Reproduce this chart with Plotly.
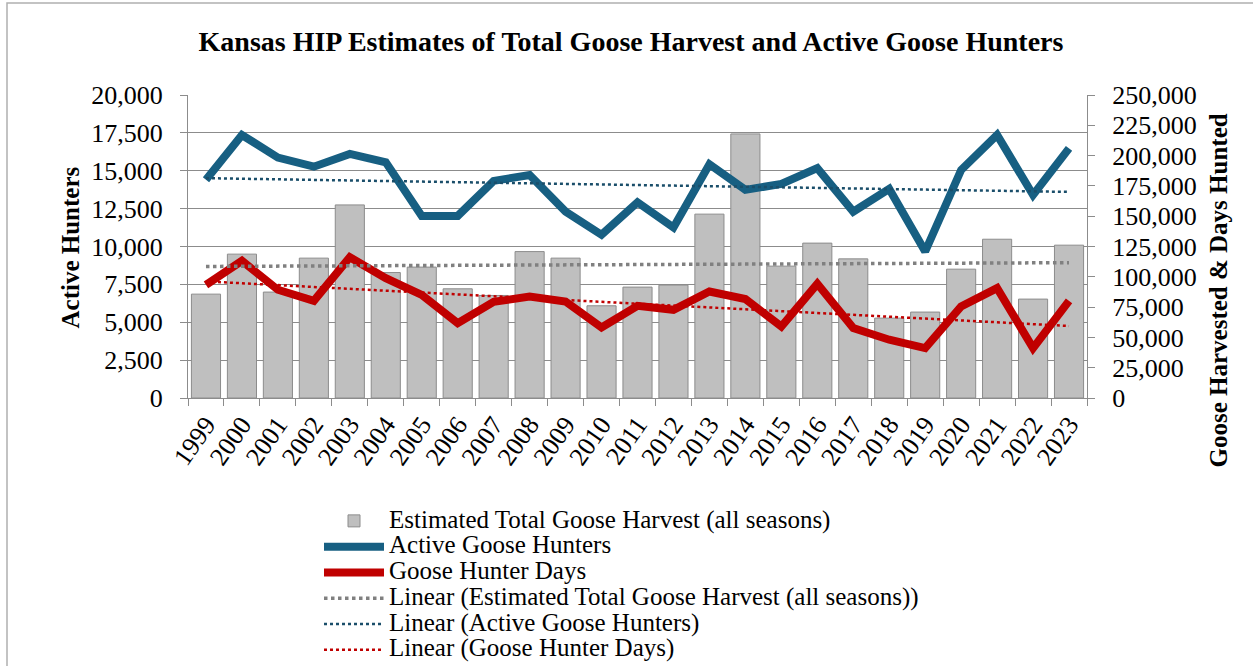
import numpy as np
import plotly.graph_objects as go

years = [str(y) for y in range(1999, 2024)]
harvest = [85700, 118700, 87400, 115400, 159300, 103500, 108000, 90100, 84600, 120800,
           115400, 76100, 91500, 93100, 151700, 217900, 108800, 127800, 114800, 65900,
           70900, 106300, 131000, 81600, 126100]
hunters = [14400, 17360, 15870, 15270, 16110, 15560, 12020, 12020, 14330, 14720,
           12300, 10770, 12920, 11250, 15430, 13740, 14130, 15170, 12300, 13800,
           9670, 15050, 17360, 13400, 16480]
hunter_days = [93400, 113200, 89300, 80200, 116200, 98900, 85100, 61800, 79300, 83700,
               79600, 58200, 76100, 72800, 87900, 81600, 59000, 94200, 57700, 48100,
               41200, 75500, 90700, 41200, 80200]
series_names = ["Estimated Total Goose Harvest (all seasons)",
                "Active Goose Hunters",
                "Goose Hunter Days",
                "Linear (Estimated Total Goose Harvest (all seasons))",
                "Linear (Active Goose Hunters)",
                "Linear (Goose Hunter Days)"]

idx = np.arange(len(years))
def trend(v):
    a, b = np.polyfit(idx, np.array(v, dtype=float), 1)
    return list(a * idx + b)

def lg(s):
    return '<span style="font-size:25px">' + s + '</span>'

FONT = "Liberation Serif"
GRID = "#8c8c8c"
BLUE = "#175f82"
RED = "#c00000"

fig = go.Figure()
fig.add_trace(go.Bar(x=years, y=harvest, name=lg(series_names[0]),
                     marker=dict(color="#bfbfbf", line=dict(color="#8c8c8c", width=1)),
                     yaxis="y"))
fig.add_trace(go.Scatter(x=years, y=hunters, name=lg(series_names[1]), mode="lines",
                         line=dict(color=BLUE, width=8), yaxis="y2"))
fig.add_trace(go.Scatter(x=years, y=hunter_days, name=lg(series_names[2]), mode="lines",
                         line=dict(color=RED, width=8), yaxis="y"))
fig.add_trace(go.Scatter(x=years, y=trend(harvest), name=lg(series_names[3]), mode="lines",
                         line=dict(color="#808080", width=3.5, dash="dot"), yaxis="y"))
fig.add_trace(go.Scatter(x=years, y=trend(hunters), name=lg(series_names[4]),
                         mode="lines", line=dict(color="#1a4e6a", width=2.5, dash="dot"), yaxis="y2"))
fig.add_trace(go.Scatter(x=years, y=trend(hunter_days), name=lg(series_names[5]),
                         mode="lines", line=dict(color=RED, width=2.5, dash="dot"), yaxis="y"))

L, R, T, B = 188, 1087, 95, 398
W, H = 1253, 666
px = lambda x: (x - L) / (R - L)
py = lambda y: (B - y) / (B - T)

fig.update_layout(
    width=W, height=H,
    margin=dict(l=L, r=W - R, t=T, b=H - B, pad=0, autoexpand=False),
    paper_bgcolor="white", plot_bgcolor="white",
    font=dict(family=FONT, size=26, color="black"),
    bargap=0.19,
    showlegend=True,
    title=dict(text="<b>Kansas HIP Estimates of Total Goose Harvest and Active Goose Hunters</b>",
               xref="paper", x=px(631), xanchor="center",
               yref="container", y=1 - 41 / H, yanchor="middle",
               font=dict(family=FONT, size=28, color="black")),
    xaxis=dict(type="category", tickson="boundaries", ticks="outside", ticklen=7,
               tickcolor=GRID, showline=True, linecolor=GRID, linewidth=1,
               tickangle=-55, showgrid=False, automargin=False,
               tickfont=dict(family=FONT, size=26)),
    yaxis=dict(side="right", range=[0, 250000], dtick=25000, tickformat=",d",
               showgrid=False, zeroline=False, showline=True, linecolor=GRID,
               ticks="outside", ticklen=7, tickcolor=GRID, ticklabelstandoff=12,
               automargin=False, tickfont=dict(family=FONT, size=26)),
    yaxis2=dict(side="left", overlaying="y", range=[0, 20000], dtick=2500, tickformat=",d",
                showgrid=True, gridcolor=GRID, gridwidth=1, zeroline=False,
                showline=True, linecolor=GRID, ticks="outside", ticklen=7, tickcolor=GRID,
                ticklabelstandoff=12, automargin=False, tickfont=dict(family=FONT, size=26)),
    legend=dict(xref="container", yref="container", x=319 / W, y=1 - 503 / H,
                xanchor="left", yanchor="top",
                font=dict(family=FONT, size=17.5), bgcolor="rgba(0,0,0,0)",
                traceorder="normal", itemwidth=60, tracegroupgap=0),
    annotations=[
        dict(text="<b>Active Hunters</b>", xref="paper", yref="paper",
             x=px(70), y=py(247.5), textangle=-90, showarrow=False,
             xanchor="center", yanchor="middle", font=dict(family=FONT, size=25)),
        dict(text="<b>Goose Harvested & Days Hunted</b>", xref="paper", yref="paper",
             x=px(1218), y=py(290.5), textangle=-90, showarrow=False,
             xanchor="center", yanchor="middle", font=dict(family=FONT, size=25)),
    ],
    shapes=[dict(type="rect", xref="paper", yref="paper",
                 x0=px(7), x1=px(1262), y0=py(680), y1=py(3),
                 line=dict(color="#b0b0b0", width=1.5), fillcolor="rgba(0,0,0,0)", layer="below")],
)

fig.write_html("out.html")
